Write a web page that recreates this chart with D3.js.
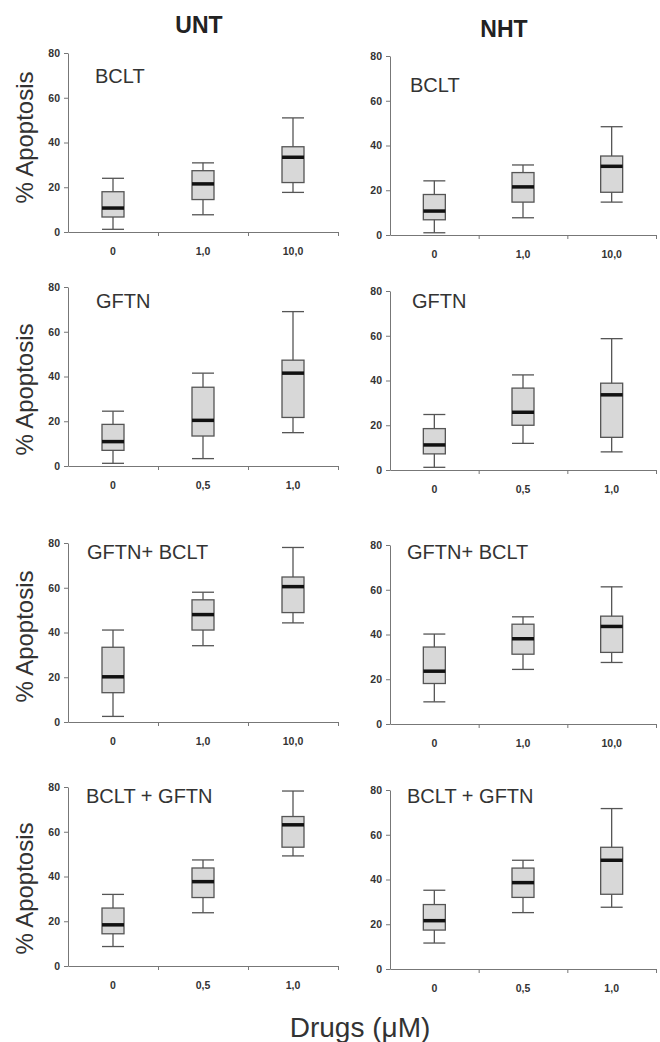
<!DOCTYPE html>
<html>
<head>
<meta charset="utf-8">
<script src="https://cdn.jsdelivr.net/npm/d3@7"></script>
<style>
    body { margin:0; background:#fff; }
    .tick text { font-family: Arial, "Liberation Sans", sans-serif; font-weight:bold; font-size:10.5px; fill:#333; }
    .domain, .tick line { stroke:#777; }
</style>
</head>
<body>
<svg id="chart"></svg>
<script>

// column headers and panel names
var columns = ["UNT", "NHT"];
var panelNames = ["BCLT", "GFTN", "GFTN+ BCLT", "BCLT + GFTN"];
var doseLabels = [
    ["0", "1,0", "10,0"],
    ["0", "0,5", "1,0"],
    ["0", "1,0", "10,0"],
    ["0", "0,5", "1,0"]
];
var yTicks = [0, 20, 40, 60, 80];

// each box: [whisker low, q1, median, q3, whisker high]
var untBCLT = [[1.2, 6.7, 10.7, 18.0, 24.0], [7.7, 14.5, 21.5, 27.4, 30.9], [17.7, 22.1, 33.4, 38.1, 51.0]];
var nhtBCLT = [[1.0, 6.8, 10.7, 18.1, 24.2], [7.7, 14.7, 21.5, 27.9, 31.3], [14.7, 19.1, 30.7, 35.3, 48.4]];
var untGFTN = [[1.2, 7.0, 10.9, 18.6, 24.5], [3.3, 13.4, 20.4, 35.2, 41.5], [14.9, 21.7, 41.5, 47.3, 69.0]];
var nhtGFTN = [[1.2, 7.2, 11.2, 18.5, 24.8], [11.9, 20.0, 25.8, 36.6, 42.5], [8.1, 14.6, 33.6, 38.8, 58.7]];
var untGB = [[2.5, 13.1, 20.2, 33.4, 41.1], [34.1, 41.1, 48.0, 54.6, 58.0], [44.3, 48.9, 60.5, 64.8, 78.0]];
var nhtGB = [[9.9, 18.1, 23.6, 34.4, 40.2], [24.4, 31.2, 38.1, 44.6, 47.9], [27.5, 32.0, 43.6, 48.2, 61.3]];
var untBG = [[8.7, 14.4, 18.4, 25.9, 32.0], [23.8, 30.6, 37.7, 43.8, 47.4], [49.2, 53.1, 63.1, 66.8, 78.2]];
var nhtBG = [[11.6, 17.4, 21.6, 28.8, 35.2], [25.2, 32.0, 38.6, 45.1, 48.6], [27.6, 33.4, 48.6, 54.4, 71.7]];

var panelData = [
    [untBCLT, nhtBCLT],
    [untGFTN, nhtGFTN],
    [untGB, nhtGB],
    [untBG, nhtBG]
];

var screen = {width: 660, height: 1042};

// layout of the 4x2 grid
var colLeft = [68, 390];
var colWidth = [270, 266];
var rowTop = [[53, 56], [287, 291], [543, 545], [787, 790]];
var plotHeight = 179;
var labelPos = [
    [{dx: 27, dy: 30}, {dx: 20, dy: 36}],
    [{dx: 28, dy: 21}, {dx: 22, dy: 17}],
    [{dx: 19, dy: 16}, {dx: 17, dy: 14}],
    [{dx: 18, dy: 16}, {dx: 17, dy: 13}]
];
var yTitleShift = [-5, 13, 4, 12];

var svg = d3.select("#chart")
    .attr("width", screen.width)
    .attr("height", screen.height);

var font = "Arial, 'Liberation Sans', sans-serif";

var drawPanel = function(r, c)
{
    var boxes = panelData[r][c];
    var left = colLeft[c];
    var top = rowTop[r][c];
    var width = colWidth[c];

    var g = svg.append("g")
        .attr("transform", "translate(" + left + "," + top + ")");

    var xScale = d3.scaleBand()
        .domain(doseLabels[r])
        .range([0, width]);

    var tickScale = d3.scaleLinear()
        .domain([0, 3])
        .range([0, width]);

    var yScale = d3.scaleLinear()
        .domain([0, 80])
        .range([plotHeight, 0]);

    // x axis line with ticks between groups
    g.append("g")
        .attr("transform", "translate(0," + plotHeight + ")")
        .call(d3.axisBottom(tickScale).tickValues([1, 2, 3]).tickFormat("").tickSize(4).tickSizeOuter(0));

    // category labels
    var xl = g.append("g")
        .attr("transform", "translate(0," + plotHeight + ")")
        .call(d3.axisBottom(xScale).tickSize(0).tickPadding(16));
    xl.select(".domain").remove();

    g.append("g")
        .call(d3.axisLeft(yScale).tickValues(yTicks).tickSize(4).tickSizeOuter(0).tickPadding(4));

    var bw = 22;
    var boxG = g.selectAll(".box")
        .data(boxes)
        .enter()
        .append("g")
        .classed("box", true)
        .attr("transform", function(d, i) { return "translate(" + (xScale(doseLabels[r][i]) + xScale.bandwidth() / 2) + ",0)"; });

    boxG.append("line")
        .attr("x1", 0).attr("x2", 0)
        .attr("y1", function(d) { return yScale(d[0]); })
        .attr("y2", function(d) { return yScale(d[4]); })
        .attr("stroke", "#555").attr("stroke-width", 1.3);

    boxG.selectAll(".cap")
        .data(function(d) { return [d[0], d[4]]; })
        .enter()
        .append("line")
        .attr("x1", -bw / 2).attr("x2", bw / 2)
        .attr("y1", function(v) { return yScale(v); })
        .attr("y2", function(v) { return yScale(v); })
        .attr("stroke", "#555").attr("stroke-width", 1.3);

    boxG.append("rect")
        .attr("x", -bw / 2)
        .attr("width", bw)
        .attr("y", function(d) { return yScale(d[3]); })
        .attr("height", function(d) { return yScale(d[1]) - yScale(d[3]); })
        .attr("fill", "#d8d8d8")
        .attr("stroke", "#555")
        .attr("stroke-width", 1.3);

    boxG.append("line")
        .attr("x1", -bw / 2).attr("x2", bw / 2)
        .attr("y1", function(d) { return yScale(d[2]); })
        .attr("y2", function(d) { return yScale(d[2]); })
        .attr("stroke", "#111").attr("stroke-width", 3.5);

    g.append("text")
        .text(panelNames[r])
        .attr("x", labelPos[r][c].dx)
        .attr("y", labelPos[r][c].dy)
        .attr("font-family", font)
        .attr("font-size", 20)
        .attr("fill", "#333");

    if (c == 0)
    {
        g.append("text")
            .text("% Apoptosis")
            .attr("transform", "translate(" + (33 - left) + "," + (plotHeight / 2 + yTitleShift[r]) + ") rotate(-90)")
            .attr("text-anchor", "middle")
            .attr("font-family", font)
            .attr("font-size", 24)
            .attr("fill", "#333");
    }
}

for (var r = 0; r < panelData.length; r++)
{
    for (var c = 0; c < columns.length; c++)
    {
        drawPanel(r, c);
    }
}

svg.selectAll(".header")
    .data(columns)
    .enter()
    .append("text")
    .classed("header", true)
    .text(function(d) { return d; })
    .attr("x", function(d, i) { return [199, 504][i]; })
    .attr("y", function(d, i) { return [33, 37][i]; })
    .attr("text-anchor", "middle")
    .attr("font-family", font)
    .attr("font-weight", "bold")
    .attr("font-size", 23)
    .attr("fill", "#222");

svg.append("text")
    .text("Drugs (\u03bcM)")
    .attr("x", 360)
    .attr("y", 1037)
    .attr("text-anchor", "middle")
    .attr("font-family", font)
    .attr("font-size", 28)
    .attr("fill", "#333");

</script>
</body>
</html>
